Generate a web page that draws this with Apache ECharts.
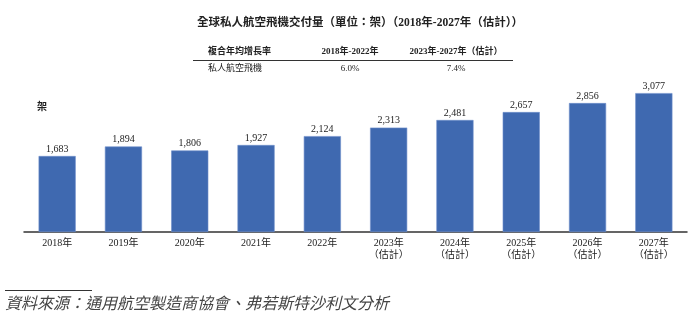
<!DOCTYPE html>
<html><head><meta charset="utf-8">
<script src="https://cdn.jsdelivr.net/npm/echarts@6/dist/echarts.min.js"></script>
<style>html,body{margin:0;padding:0;background:#fff}#c{width:700px;height:322px}</style>
</head><body><div id="c"></div>
<script>
const categories = ['2018年','2019年','2020年','2021年','2022年','2023年\n（估計）','2024年\n（估計）','2025年\n（估計）','2026年\n（估計）','2027年\n（估計）'];
const deliveries = [1683,1894,1806,1927,2124,2313,2481,2657,2856,3077];
const cagrHeader = ['複合年均增長率','2018年-2022年','2023年-2027年（估計）'];
const cagrRow = ['私人航空飛機','6.0%','7.4%'];
const FONT = '"Liberation Serif","Noto Sans CJK TC",serif';
const chart = echarts.init(document.getElementById('c'));
chart.setOption({
  animation:false,
  grid:{left:24,right:13,top:74,bottom:90},
  xAxis:{type:'category',data:categories,
    axisLine:{lineStyle:{color:'#333',width:1.5}},
    axisTick:{show:false},
    axisLabel:{fontFamily:FONT,fontSize:10,color:'#222',margin:5,lineHeight:12}},
  yAxis:{type:'value',min:0,max:3500,show:false,splitLine:{show:false}},
  series:[{type:'bar',data:deliveries,barWidth:'56%',
    itemStyle:{color:'#3F69B0',borderColor:'#6F8FCB',borderWidth:0.6},
    label:{show:true,position:'top',distance:2,fontFamily:FONT,fontSize:10,color:'#222',
      formatter:p=>p.value.toLocaleString('en-US')}}],
  graphic:[
    {type:'text',x:360,y:23,style:{text:'全球私人航空飛機交付量（單位：架）（2018年-2027年（估計））',fontFamily:FONT,fontSize:11.5,fontWeight:'bold',fill:'#222',textAlign:'center',textVerticalAlign:'middle'}},
    {type:'text',x:208,y:52,style:{text:cagrHeader[0],fontFamily:FONT,fontSize:9,fontWeight:'bold',fill:'#222',textVerticalAlign:'middle'}},
    {type:'text',x:350,y:52,style:{text:cagrHeader[1],fontFamily:FONT,fontSize:9,fontWeight:'bold',fill:'#222',textAlign:'center',textVerticalAlign:'middle'}},
    {type:'text',x:456,y:52,style:{text:cagrHeader[2],fontFamily:FONT,fontSize:9,fontWeight:'bold',fill:'#222',textAlign:'center',textVerticalAlign:'middle'}},
    {type:'line',shape:{x1:193,y1:60.5,x2:513,y2:60.5},style:{stroke:'#333',lineWidth:1}},
    {type:'text',x:208,y:69,style:{text:cagrRow[0],fontFamily:FONT,fontSize:9,fill:'#222',textVerticalAlign:'middle'}},
    {type:'text',x:350,y:69,style:{text:cagrRow[1],fontFamily:FONT,fontSize:9,fill:'#222',textAlign:'center',textVerticalAlign:'middle'}},
    {type:'text',x:456,y:69,style:{text:cagrRow[2],fontFamily:FONT,fontSize:9,fill:'#222',textAlign:'center',textVerticalAlign:'middle'}},
    {type:'text',x:37,y:107,style:{text:'架',fontFamily:FONT,fontSize:10,fontWeight:'bold',fill:'#222',textVerticalAlign:'middle'}},
    {type:'line',shape:{x1:5,y1:290.5,x2:92,y2:290.5},style:{stroke:'#333',lineWidth:1}},
    {type:'text',x:5,y:305,style:{text:'資料來源：通用航空製造商協會、弗若斯特沙利文分析',fontFamily:FONT,fontSize:16,fontStyle:'italic',fill:'#444',textVerticalAlign:'middle'}}
  ]
});
</script></body></html>
